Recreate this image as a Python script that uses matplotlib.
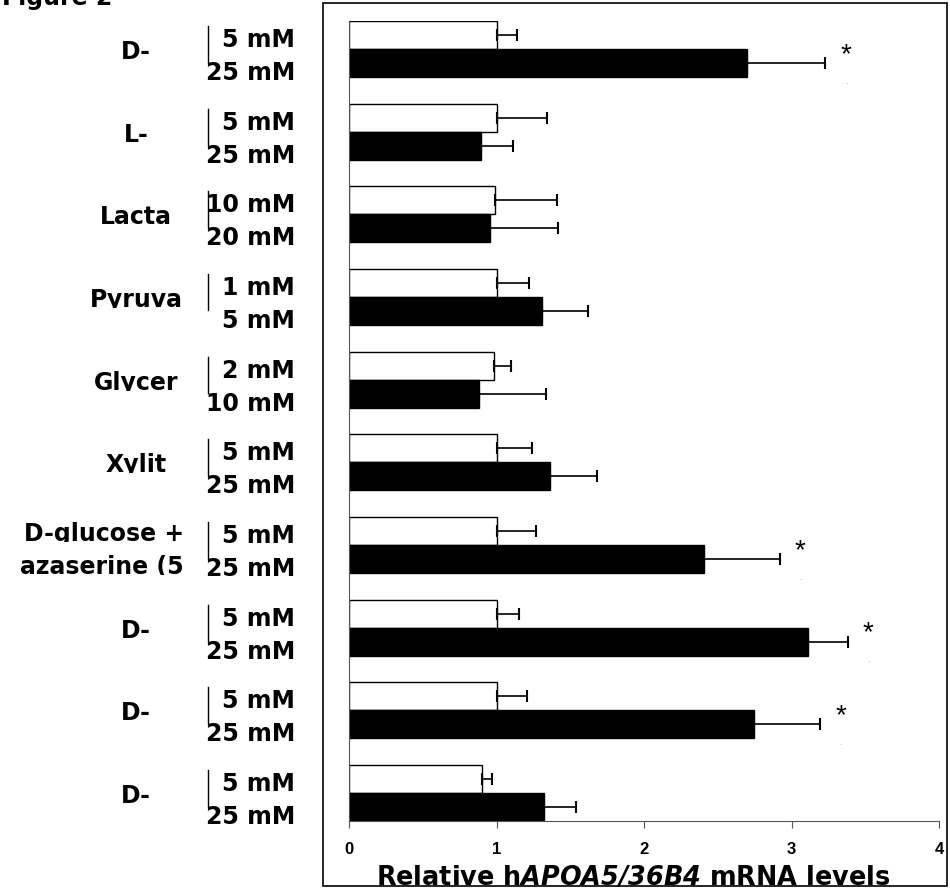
import numpy as np
import matplotlib
matplotlib.use('Agg')
import matplotlib.pyplot as plt
from matplotlib.patches import Rectangle
from matplotlib.transforms import blended_transform_factory, Bbox

plt.rcParams['font.family'] = ['DejaVu Sans']
plt.rcParams['mathtext.fontset'] = 'custom'
plt.rcParams['mathtext.rm'] = 'DejaVu Sans:italic:bold'
plt.rcParams['mathtext.it'] = 'DejaVu Sans:italic:bold'

# data
groups = ['D-', 'L-', 'Lacta', 'Pyruva', 'Glycer', 'Xylit',
          'D-glucose +\nazaserine (5', 'D-', 'D-', 'D-']
low_dose = ['5 mM', '5 mM', '10 mM', '1 mM', '2 mM', '5 mM', '5 mM', '5 mM', '5 mM', '5 mM']
high_dose = ['25 mM', '25 mM', '20 mM', '5 mM', '10 mM', '25 mM', '25 mM', '25 mM', '25 mM', '25 mM']
low_vals = [1.00, 1.00, 0.99, 1.00, 0.98, 1.00, 1.00, 1.00, 1.00, 0.905]
low_err = [0.14, 0.345, 0.42, 0.22, 0.12, 0.24, 0.265, 0.155, 0.21, 0.062]
high_vals = [2.70, 0.895, 0.955, 1.31, 0.88, 1.36, 2.41, 3.11, 2.745, 1.32]
high_err = [0.53, 0.215, 0.465, 0.31, 0.455, 0.32, 0.51, 0.27, 0.45, 0.22]
signif = [True, False, False, False, False, False, True, True, True, False]
xticks = [0, 1, 2, 3, 4]

W, H = 950, 888
fig = plt.figure(figsize=(W / 100, H / 100), dpi=100)
ax = fig.add_axes([349 / W, 1 - 821 / H, 590 / W, 800 / H])

y = np.arange(len(groups))
h = 0.34
ax.barh(y - h / 2, low_vals, height=h, color='white', edgecolor='black', linewidth=1)
ax.barh(y + h / 2, high_vals, height=h, color='black', edgecolor='black', linewidth=1)
ax.errorbar(low_vals, y - h / 2, xerr=[np.zeros(len(y)), low_err], fmt='none',
            ecolor='black', elinewidth=1.2, capsize=4.3, capthick=1.5)
ax.errorbar(high_vals, y + h / 2, xerr=[np.zeros(len(y)), high_err], fmt='none',
            ecolor='black', elinewidth=1.2, capsize=4.3, capthick=1.5)

for i, s in enumerate(signif):
    if s:
        xs = high_vals[i] + high_err[i] + 0.14
        ax.text(xs, y[i] + h / 2 - 0.1, '*', ha='center', va='center', fontsize=20,
                family='Liberation Sans')
        ax.text(xs, y[i] + h / 2 + 0.22, '.', ha='center', va='center', fontsize=6, color='#999999')

ax.set_xlim(0, 4)
ax.set_ylim(len(groups) - 1 + h, -h)
ax.spines['top'].set_visible(False)
ax.spines['right'].set_visible(False)
ax.spines['left'].set_color('#555555')
ax.spines['bottom'].set_color('#555555')
ax.set_yticks([])
ax.set_xticks(xticks)
ax.set_xticklabels([str(t) for t in xticks], fontweight='bold', fontsize=12,
                   family='Liberation Sans')
ax.tick_params(axis='x', direction='out', length=5, color='#555555', pad=10)

# left labels: group names, doses and the small bracket lines
tr = blended_transform_factory(fig.transFigure, ax.transData)
px = 1.0 / W
unit = 800 / (len(groups) - 1 + 2 * h)


def clipped_text(x, yy, s, **kw):
    t = fig.text(x, yy, s, transform=tr, va='baseline', fontsize=17, fontweight='bold', **kw)
    base = tr.transform((0, yy))[1]
    t.set_clip_box(Bbox([[0, base - 1], [W, H]]))
    t.set_clip_on(True)
    return t


for i, name in enumerate(groups):
    lines = name.split('\n')
    n = len(lines)
    for k, line in enumerate(lines):
        yy = y[i] + 10 / unit + (k - (n - 1) / 2) * 33 / unit + (3 / unit if n > 1 else 0)
        if n > 1:
            clipped_text(184 * px, yy, line, ha='right')
        else:
            clipped_text(136 * px, yy, line, ha='center')
    clipped_text(295 * px, y[i] - 2 / unit, low_dose[i], ha='right')
    clipped_text(295 * px, y[i] + 31 / unit, high_dose[i], ha='right')
    fig.add_artist(plt.Line2D([208 * px, 208 * px], [y[i] - 23 / unit, y[i] + 13 / unit],
                              transform=tr, color='black', linewidth=1))

fig.text(633 / W, 1 - 885 / H, r'Relative h$\mathrm{APOA5/36B4}$ mRNA levels',
         ha='center', va='baseline', fontsize=18.4, fontweight='bold')
fig.text(2 / W, 1 - 5 / H, 'Figure 2', ha='left', va='baseline', fontsize=17, fontweight='bold')

fig.add_artist(Rectangle((323 / W, 1 - 886 / H), (947 - 323) / W, (886 - 3) / H,
                         transform=fig.transFigure, fill=False, edgecolor='black', linewidth=1.2))

fig.savefig('out.png', dpi=100)
